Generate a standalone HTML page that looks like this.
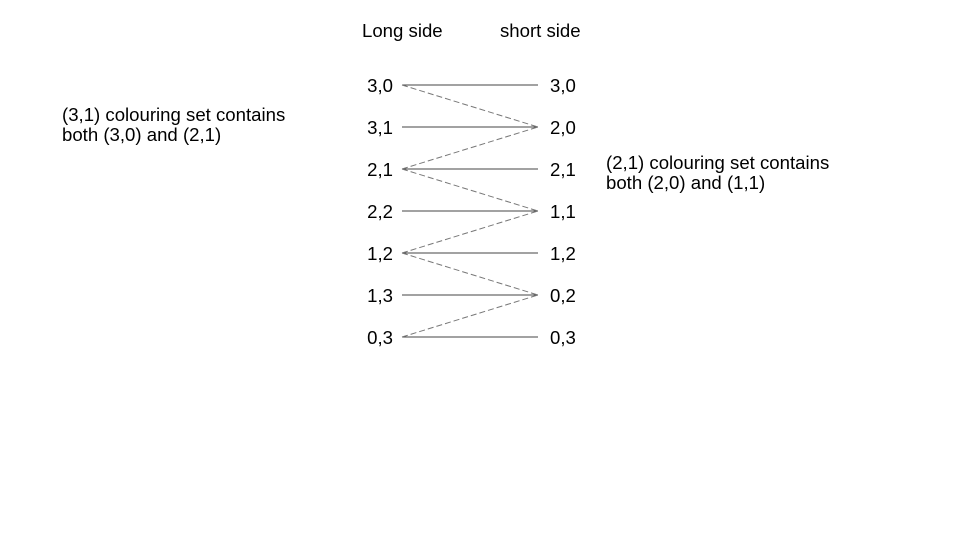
<!DOCTYPE html>
<html><head><meta charset="utf-8"><style>
body{margin:0;background:#fff;}
svg{display:block;font-family:"Liberation Sans",Arial,sans-serif;}
</style></head><body>
<svg width="960" height="540" viewBox="0 0 960 540">
<text x="362" y="37" font-size="18.6" fill="#000">Long side</text>
<text x="500" y="37" font-size="18.6" fill="#000">short side</text>
<text x="62" y="121" font-size="18.6" fill="#000"><tspan x="62">(3,1) colouring set contains</tspan><tspan x="62" dy="20">both (3,0) and (2,1)</tspan></text>
<text x="606" y="169" font-size="18.6" fill="#000"><tspan x="606">(2,1) colouring set contains</tspan><tspan x="606" dy="20">both (2,0) and (1,1)</tspan></text>
<g id="g"></g>
</svg>
<script>
const leftLabels=["3,0","3,1","2,1","2,2","1,2","1,3","0,3"];
const rightLabels=["3,0","2,0","2,1","1,1","1,2","0,2","0,3"];
const dashedLinks=[[0,1],[2,1],[2,3],[4,3],[4,5],[6,5]];
const NS="http://www.w3.org/2000/svg";
const g=document.getElementById('g');
const y=i=>85+i*42;
const xl=402,xr=538;
function mk(t,a){const e=document.createElementNS(NS,t);for(const k in a)e.setAttribute(k,a[k]);g.appendChild(e);return e;}
leftLabels.forEach((l,i)=>{
 const t=mk('text',{x:393,y:y(i)+7,'font-size':18.6,'text-anchor':'end',fill:'#000'});t.textContent=l;
 
 
 const r=mk('text',{x:550,y:y(i)+7,'font-size':18.6,fill:'#000'});r.textContent=rightLabels[i];
 
 
 const ln=mk('line',{x1:xl,y1:y(i),x2:xr,y2:y(i),stroke:'#444','stroke-width':1});
 
 
});
dashedLinks.forEach(([a,b])=>{
 const ln=mk('line',{x1:xl,y1:y(a),x2:xr,y2:y(b),stroke:'#777','stroke-width':1,'stroke-dasharray':'6,3'});
 
 
});
</script>
</body></html>
